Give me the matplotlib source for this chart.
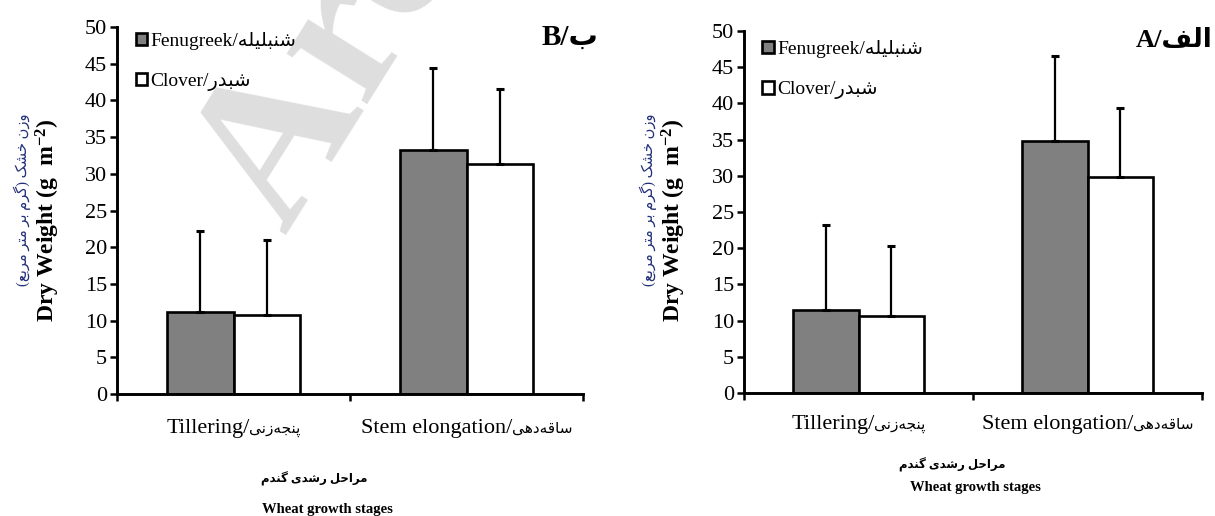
import numpy as np
import matplotlib
matplotlib.use("Agg")
import matplotlib.pyplot as plt
from matplotlib.offsetbox import TextArea, HPacker, AnnotationBbox

# values (g m-2), error bars are upper only
stages_en = ["Tillering", "Stem elongation"]
stages_fa = ["پنجه\u200cزنی", "ساقه\u200cدهی"]

fen_B = [11.2, 33.3]
fen_B_err = [11.0, 11.1]
clo_B = [10.7, 31.3]
clo_B_err = [10.3, 10.3]

fen_A = [11.5, 34.8]
fen_A_err = [11.7, 11.7]
clo_A = [10.6, 29.9]
clo_A_err = [9.7, 9.5]

yticks = list(range(0, 51, 5))

# --- tiny persian shaper: presentation forms + visual order ---
FORMS = {
    "ا": ("\uFE8D", "\uFE8E", None, None),
    "ب": ("\uFE8F", "\uFE90", "\uFE91", "\uFE92"),
    "پ": ("\uFB56", "\uFB57", "\uFB58", "\uFB59"),
    "ت": ("\uFE95", "\uFE96", "\uFE97", "\uFE98"),
    "ج": ("\uFE9D", "\uFE9E", "\uFE9F", "\uFEA0"),
    "ح": ("\uFEA1", "\uFEA2", "\uFEA3", "\uFEA4"),
    "خ": ("\uFEA5", "\uFEA6", "\uFEA7", "\uFEA8"),
    "د": ("\uFEA9", "\uFEAA", None, None),
    "ر": ("\uFEAD", "\uFEAE", None, None),
    "ز": ("\uFEAF", "\uFEB0", None, None),
    "س": ("\uFEB1", "\uFEB2", "\uFEB3", "\uFEB4"),
    "ش": ("\uFEB5", "\uFEB6", "\uFEB7", "\uFEB8"),
    "ع": ("\uFEC9", "\uFECA", "\uFECB", "\uFECC"),
    "ف": ("\uFED1", "\uFED2", "\uFED3", "\uFED4"),
    "ق": ("\uFED5", "\uFED6", "\uFED7", "\uFED8"),
    "ک": ("\uFB8E", "\uFB8F", "\uFB90", "\uFB91"),
    "گ": ("\uFB92", "\uFB93", "\uFB94", "\uFB95"),
    "ل": ("\uFEDD", "\uFEDE", "\uFEDF", "\uFEE0"),
    "م": ("\uFEE1", "\uFEE2", "\uFEE3", "\uFEE4"),
    "ن": ("\uFEE5", "\uFEE6", "\uFEE7", "\uFEE8"),
    "ه": ("\uFEE9", "\uFEEA", "\uFEEB", "\uFEEC"),
    "و": ("\uFEED", "\uFEEE", None, None),
    "ی": ("\uFBFC", "\uFBFD", "\uFBFE", "\uFBFF"),
}
DUAL = {c for c, f in FORMS.items() if f[2] is not None}


def fa(s):
    out = []
    for i, c in enumerate(s):
        if c not in FORMS:
            if c != "\u200c":
                out.append(c)
            continue
        prev = s[i - 1] if i > 0 else ""
        nxt = s[i + 1] if i + 1 < len(s) else ""
        jp = prev in DUAL
        jn = c in DUAL and nxt in FORMS
        f = FORMS[c]
        if jp and jn:
            out.append(f[3])
        elif jp:
            out.append(f[1])
        elif jn:
            out.append(f[2])
        else:
            out.append(f[0])
    mirror = {"(": ")", ")": "("}
    return "".join(mirror.get(c, c) for c in reversed(out))


MIX = ["Liberation Serif", "DejaVu Sans"]
plt.rcParams["font.family"] = MIX
plt.rcParams["mathtext.fontset"] = "custom"
plt.rcParams["mathtext.bf"] = "Liberation Serif:bold"
plt.rcParams["mathtext.rm"] = "Liberation Serif:bold"
plt.rcParams["mathtext.default"] = "bf"

W, H = 1215, 516
fig = plt.figure(figsize=(W / 100, H / 100), dpi=100)


def px(x, y):
    return x / W, 1 - y / H


# watermark
fig.text(*px(285, 236), "Archive of SID", fontsize=150, fontweight="bold",
         color="#dedede", rotation=58, rotation_mode="anchor",
         ha="left", va="baseline", zorder=-5)

axB = fig.add_axes([117 / W, 122 / H, 466 / W, 367 / H])
axA = fig.add_axes([744 / W, 123 / H, 458 / W, 362 / H])


def panel(ax, fen, fen_err, clo, clo_err, leg_top, lab_off):
    ax.set_facecolor("none")
    pos = np.arange(len(stages_en)) + 0.5
    bw = 0.285
    ekw = dict(elinewidth=1.6, capsize=2.6, capthick=2.2, ecolor="black")
    ax.bar(pos - bw / 2, fen, bw, color="#808080", edgecolor="black",
           linewidth=1.9, yerr=[np.zeros(len(fen)), fen_err], error_kw=ekw,
           label="Fenugreek/" + fa("شنبلیله"))
    ax.bar(pos + bw / 2, clo, bw, color="white", edgecolor="black",
           linewidth=1.9, yerr=[np.zeros(len(clo)), clo_err], error_kw=ekw,
           label="Clover/" + fa("شبدر"))
    ax.set_xlim(0, len(stages_en))
    ax.set_ylim(0, 50)
    ax.set_yticks(yticks)
    ax.set_xticks(np.arange(len(stages_en) + 1))
    ax.set_xticklabels([])
    ax.tick_params(axis="both", which="major", direction="out", length=5,
                   width=1.8, labelsize=16, pad=2)
    for s in ["top", "right"]:
        ax.spines[s].set_visible(False)
    for s in ["left", "bottom"]:
        ax.spines[s].set_linewidth(2.1)
    # category labels: latin part + smaller persian part on one baseline
    for x, e, f in zip(pos, stages_en, stages_fa):
        box = HPacker(children=[
            TextArea(e + "/", textprops=dict(fontsize=16)),
            TextArea(fa(f), textprops=dict(fontsize=11))],
            align="baseline", pad=0, sep=0)
        ab = AnnotationBbox(box, (x, 0), xycoords=("data", "axes fraction"),
                            xybox=(0, lab_off), boxcoords="offset points",
                            box_alignment=(0.5, 1), frameon=False)
        ax.add_artist(ab)
    ax.legend(loc="upper left", bbox_to_anchor=(0.04, leg_top),
              frameon=False, fontsize=14, handlelength=0.6,
              handleheight=0.6, handletextpad=0.15, labelspacing=1.2,
              borderpad=0, borderaxespad=0)


panel(axB, fen_B, fen_B_err, clo_B, clo_B_err, 0.987, -18)
panel(axA, fen_A, fen_A_err, clo_A, clo_A_err, 0.975, -16)

ylab_en = "Dry Weight (g  m$^{-2}$)"
ylab_fa = fa("وزن خشک (گرم بر متر مربع)")
for xe, xf in [(48, 22), (674, 648)]:
    fig.text(*px(xe, 220), ylab_en, rotation=90, fontsize=17,
             fontweight="bold", ha="center", va="center")
    fig.text(*px(xf, 200), ylab_fa, rotation=90, fontsize=10.5,
             color="#23307a", ha="center", va="center")

fig.text(*px(598, 37), "B/" + fa("ب"), fontsize=21, fontweight="bold",
         ha="right", va="center")
fig.text(*px(1212, 41), "A/" + fa("الف"), fontsize=19, fontweight="bold",
         ha="right", va="center")

xt_fa = fa("مراحل رشدی گندم")
fig.text(*px(314, 479), xt_fa, fontsize=8.5, fontweight="bold",
         ha="center", va="center")
fig.text(*px(327, 509), "Wheat growth stages", fontsize=10.5,
         fontweight="bold", ha="center", va="center")
fig.text(*px(952, 465), xt_fa, fontsize=8.5, fontweight="bold",
         ha="center", va="center")
fig.text(*px(975, 488), "Wheat growth stages", fontsize=10.5,
         fontweight="bold", ha="center", va="center")

fig.savefig("out.png", dpi=100)
